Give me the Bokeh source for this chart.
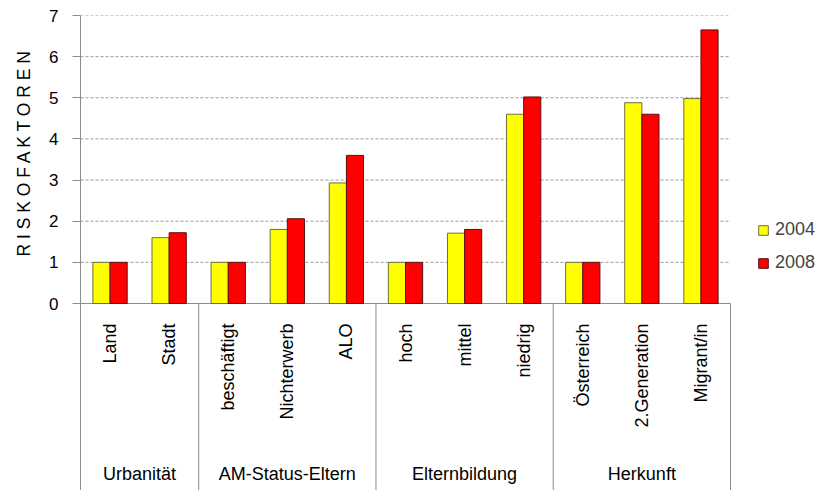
import math
from bokeh.plotting import figure
from bokeh.models import (Range1d, FixedTicker, Legend, LegendItem, Title,
                          ColumnDataSource)
from bokeh.transform import dodge
from bokeh.core.properties import value
from bokeh.embed import file_html
from bokeh.resources import INLINE

# ---------------- data ----------------
categories = ["Land", "Stadt", "beschäftigt", "Nichterwerb", "ALO",
              "hoch", "mittel", "niedrig", "Österreich", "2.Generation", "Migrant/in"]
groups = ["Urbanität", "AM-Status-Eltern", "Elternbildung", "Herkunft"]
group_sizes = [2, 3, 3, 3]
series = ["2004", "2008"]
values_2004 = [1.0, 1.60, 1.0, 1.80, 2.93, 1.0, 1.71, 4.60, 1.0, 4.88, 4.98]
values_2008 = [1.0, 1.72, 1.0, 2.06, 3.60, 1.0, 1.80, 5.02, 1.0, 4.60, 6.65]
y_ticks = [0, 1, 2, 3, 4, 5, 6, 7]
y_title = "R I S K O F A K T O R E N"

# ---------------- layout ----------------
FONT = "Liberation Sans"
W, H = 821, 490
LEFT, TOP, RIGHT_EDGE = 80, 15, 730
ZERO_PX = 303
frame_h = H - TOP
ymax = y_ticks[-1]
ppu = (ZERO_PX - TOP) / ymax
ymin = -(frame_h - (ZERO_PX - TOP)) / ppu
n = len(categories)
frame_w = W - LEFT
xppu = (RIGHT_EDGE - LEFT) / n
xmax = frame_w / xppu

p = figure(width=W, height=H, x_range=Range1d(0, xmax), y_range=Range1d(ymin, ymax),
           output_backend="svg", toolbar_location=None, x_axis_location=None,
           min_border_left=LEFT, min_border_right=0, min_border_top=TOP,
           min_border_bottom=0, outline_line_color=None, background_fill_color="white",
           border_fill_color="white")

GRAY = "#8c8c8c"

# y axis
yax = p.yaxis[0]
yax.ticker = FixedTicker(ticks=y_ticks)
yax.axis_line_color = GRAY
yax.major_tick_line_color = GRAY
yax.major_tick_out = 8
yax.major_tick_in = 0
yax.minor_tick_line_color = None
yax.major_label_standoff = 14
yax.major_label_text_font = FONT
yax.major_label_text_font_size = "17px"
yax.major_label_text_color = "black"

p.xgrid.visible = False
p.ygrid.visible = False

# dashed gridlines over the category extent only
grid_y = y_ticks[1:]
p.segment(x0=[0] * len(grid_y), y0=grid_y, x1=[n] * len(grid_y), y1=grid_y,
          line_color="#9a9a9a", line_dash="3 2", line_width=1)

# baseline
p.segment(x0=[0], y0=[0], x1=[n], y1=[0], line_color=GRAY, line_width=1)

# group separators
bounds = [0]
for s in group_sizes:
    bounds.append(bounds[-1] + s)
sep_x = bounds[1:]
p.segment(x0=sep_x, y0=[0] * len(sep_x), x1=sep_x, y1=[ymin] * len(sep_x),
          line_color=GRAY, line_width=1)

xs = [i + 0.5 for i in range(n)]
src = ColumnDataSource(dict(x=xs, cat=categories, y04=values_2004, y08=values_2008))

r1 = p.vbar(x=dodge("x", -0.145, range=p.x_range), top="y04", width=0.29, bottom=0,
            source=src, fill_color="#FFFF00", line_color="#6e6e3a", line_width=1)
r2 = p.vbar(x=dodge("x", 0.145, range=p.x_range), top="y08", width=0.29, bottom=0,
            source=src, fill_color="#FF0000", line_color="#5a1010", line_width=1)

# category labels (rotated)
lab_y = -(323 - ZERO_PX) / ppu
p.text(x="x", y=lab_y, text="cat", source=src, angle=math.pi / 2,
       text_align="right", text_baseline="middle", text_font=value(FONT),
       text_font_size="18px", text_color="black")

# group labels
gx = [(bounds[i] + bounds[i + 1]) / 2 for i in range(len(groups))]
gy = -(473 - ZERO_PX) / ppu
p.text(x=gx, y=[gy] * len(gx), text=groups, text_align="center",
       text_baseline="middle", text_font=value(FONT), text_font_size="18px",
       text_color="black")

# y title
p.add_layout(Title(text=y_title, align="right", offset=33, vertical_align="middle",
                   text_font=FONT, text_font_size="17.5px", text_font_style="normal",
                   text_color="black", standoff=23), "left")

legend = Legend(items=[LegendItem(label=series[0], renderers=[r1]),
                       LegendItem(label=series[1], renderers=[r2])],
                location=(757 - LEFT, H - 273), orientation="vertical",
                glyph_width=12, glyph_height=12, label_height=20, spacing=12,
                padding=0, margin=0, border_line_color=None,
                background_fill_alpha=0, label_text_font=FONT,
                label_text_font_size="18px", label_standoff=6)
p.add_layout(legend)

open("out.html", "w").write(file_html(p, INLINE))
